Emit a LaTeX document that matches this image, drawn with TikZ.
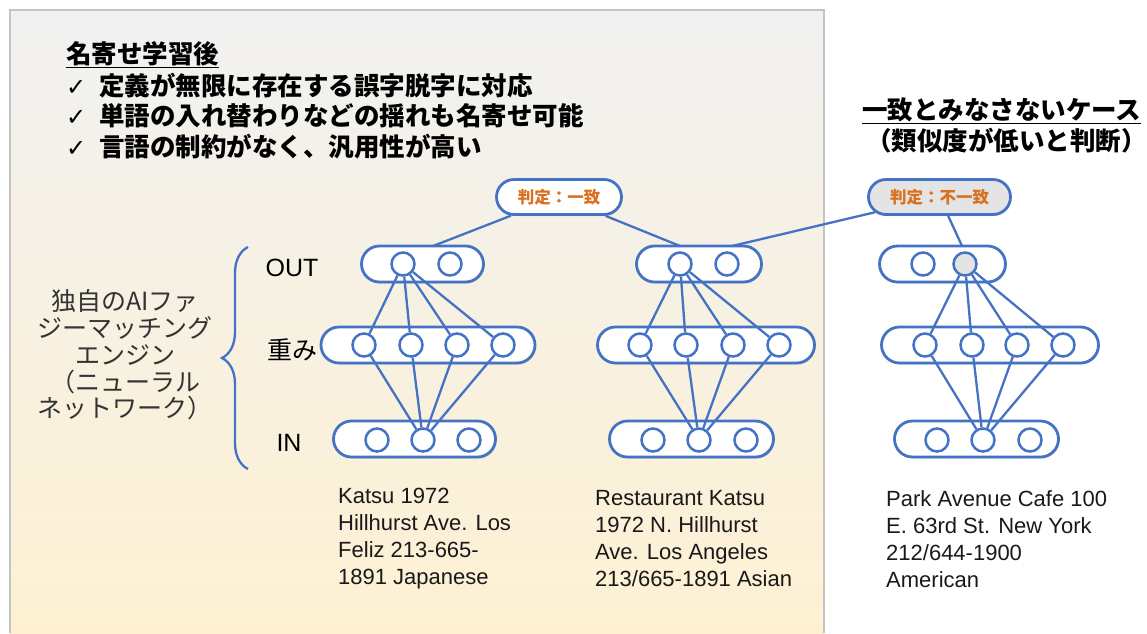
\documentclass[tikz,border=0pt]{standalone}
\usepackage{fontspec}
\setmainfont{Liberation Sans}
\newfontfamily\jp{Noto Sans CJK JP}
\newfontfamily\sym{DejaVu Sans}
\usetikzlibrary{shapes.misc,shadows,decorations.pathreplacing}
\definecolor{nblue}{HTML}{4472C4}
\definecolor{jorange}{HTML}{D9701F}
\definecolor{paneltop}{HTML}{F1F1F1}
\definecolor{panelbot}{HTML}{FEF1D3}
\definecolor{paneledge}{HTML}{C4C4C4}
\definecolor{greyfill}{HTML}{E4E4E4}
\begin{document}
\begin{tikzpicture}[x=1pt,y=-1pt,
  pill/.style={rounded rectangle, draw=nblue, line width=2.8pt, fill=white, inner sep=0pt,
    minimum height=36pt, drop shadow={shadow xshift=1pt, shadow yshift=-1.5pt, opacity=0.25, fill=black!60}},
  neuron/.style={circle, draw=nblue, line width=2.5pt, fill=white, minimum size=23pt, inner sep=0pt},
  conn/.style={draw=nblue, line width=2.3pt},
  judge/.style={pill, minimum height=35pt, font=\jp\bfseries\fontsize{16.5}{18}\selectfont, text=jorange},
  addr/.style={anchor=west, align=left, inner sep=0pt, font=\fontsize{22}{27}\selectfont, text=black!90},
  jtext/.style={anchor=west, inner sep=0pt, font=\jp\bfseries\fontsize{25.5}{31}\selectfont},
  lbl/.style={inner sep=0pt, font=\fontsize{25}{27}\selectfont}]
\useasboundingbox (0,0) rectangle (1147,633);
% panel
\shade[top color=paneltop, bottom color=panelbot] (10,10) rectangle (824,633);
\draw[paneledge, line width=2pt] (10,633) -- (10,10) -- (824,10) -- (824,633);

% headings
\node[jtext] (h1) at (66,55) {\underline{名寄せ学習後}};
\node[jtext] (h2) at (66,86) {\makebox[33pt][l]{\sym\fontsize{24}{24}\selectfont ✓}定義が無限に存在する誤字脱字に対応};
\node[jtext] (h3) at (66,116) {\makebox[33pt][l]{\sym\fontsize{24}{24}\selectfont ✓}単語の入れ替わりなどの揺れも名寄せ可能};
\node[jtext] (h4) at (66,147) {\makebox[33pt][l]{\sym\fontsize{24}{24}\selectfont ✓}言語の制約がなく、汎用性が高い};
\node[jtext] (r1) at (862,111) {\underline{一致とみなさないケース}};
\node[jtext] (r2) at (866,141) {（類似度が低いと判断）};

% left description
\node[inner sep=0pt, align=center, text=black!80, font=\jp\fontsize{25}{26.8}\selectfont] (desc) at (125,355)
  {独自のAIファ\\ジーマッチング\\エンジン\\（ニューラル\\ネットワーク）};
\draw[nblue, line width=2.3pt, decorate, decoration={brace, amplitude=26pt, aspect=0.5}] (248,469) -- (248,247);

% layer labels
\node[lbl] (lout) at (292,268) {OUT};
\node[lbl, font=\jp\fontsize{25}{27}\selectfont] (lw) at (292,350) {重み};
\node[lbl] (lin) at (289,443) {IN};

% judgement nodes
\node[judge, minimum width=125pt] (j1) at (559,197) {判定：一致};
\node[judge, minimum width=142pt, fill=greyfill] (j2) at (939.5,197) {判定：不一致};

% network 1
\node[pill, minimum width=122pt] (ao) at (422.5,264) {};
\node[pill, minimum width=214pt] (aw) at (428,345) {};
\node[pill, minimum width=162pt] (ai) at (414.5,439) {};
\foreach \x [count=\i] in {403,450} \node[neuron] (ao\i) at (\x,264) {};
\foreach \x [count=\i] in {364,411,457,503} \node[neuron] (aw\i) at (\x,345) {};
\foreach \x [count=\i] in {377,423,469} \node[neuron] (ai\i) at (\x,440) {};
\foreach \i in {1,...,4} {\draw[conn] (ao1) -- (aw\i); \draw[conn] (aw\i) -- (ai2);}

% network 2
\node[pill, minimum width=125pt] (bo) at (699,264) {};
\node[pill, minimum width=217pt] (bw) at (706,345) {};
\node[pill, minimum width=164pt] (bi) at (691.5,439) {};
\foreach \x [count=\i] in {680,727} \node[neuron] (bo\i) at (\x,264) {};
\foreach \x [count=\i] in {640,686,733,779} \node[neuron] (bw\i) at (\x,345) {};
\foreach \x [count=\i] in {653,699,746} \node[neuron] (bi\i) at (\x,440) {};
\foreach \i in {1,...,4} {\draw[conn] (bo1) -- (bw\i); \draw[conn] (bw\i) -- (bi2);}

% network 3
\node[pill, minimum width=126pt] (co) at (942.5,264) {};
\node[pill, minimum width=217pt] (cw) at (990,345) {};
\node[pill, minimum width=164pt] (ci) at (976.5,439) {};
\node[neuron] (co1) at (923,264) {};
\node[neuron, fill=greyfill] (co2) at (965,264) {};
\foreach \x [count=\i] in {925,972,1017,1063} \node[neuron] (cw\i) at (\x,345) {};
\foreach \x [count=\i] in {937,983,1030} \node[neuron] (ci\i) at (\x,440) {};
\foreach \i in {1,...,4} {\draw[conn] (co2) -- (cw\i); \draw[conn] (cw\i) -- (ci2);}

% judgement connectors
\coordinate (t1) at (433,246);
\coordinate (t2) at (680,246);
\coordinate (t3) at (732,246);
\coordinate (t4) at (962,246);
\draw[conn] (j1) -- (t1);
\draw[conn] (j1) -- (t2);
\draw[conn] (j2) -- (t3);
\draw[conn] (j2) -- (t4);

% addresses
\node[addr] (a1) at (338,539) {Katsu 1972\\Hillhurst Ave. Los\\Feliz 213-665-\\1891 Japanese};
\node[addr] (a2) at (595,539) {Restaurant Katsu\\1972 N. Hillhurst\\Ave. Los Angeles\\213/665-1891 Asian};
\node[addr] (a3) at (886,539) {Park Avenue Cafe 100\\E. 63rd St. New York\\212/644-1900\\American};
\end{tikzpicture}
\end{document}
